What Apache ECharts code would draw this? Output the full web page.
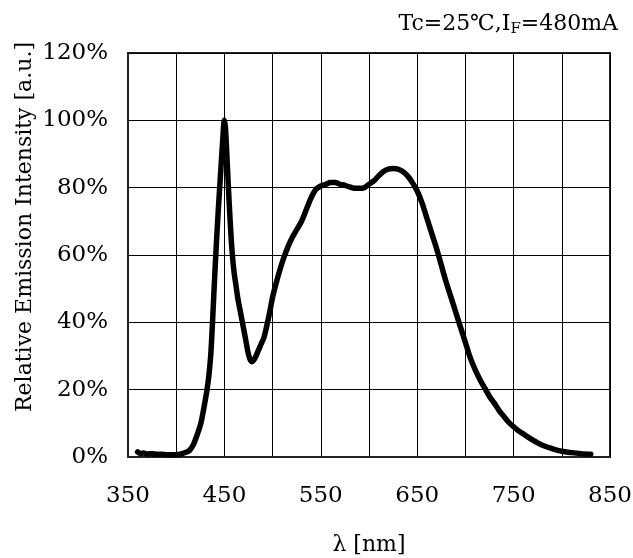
<!DOCTYPE html>
<html>
<head>
<meta charset="utf-8">
<script src="https://cdn.jsdelivr.net/npm/echarts@6/dist/echarts.min.js"></script>
<style>html,body{margin:0;padding:0;background:#fff;}#main{width:633px;height:558px;}</style>
</head>
<body>
<div id="main"></div>
<script>
// wavelength [nm]
const wavelengths = [360,363,366,370,375,380,385,390,395,400,405,410,414,418,421,424,426,429,432,434,436,438,440,442,444,446,448,450,451,452,454,456,458,460,462,464,466,468,470,472,475,478,481,485,488,491,494,497,500,504,508,512,516,520,525,530,535,540,545,550,555,560,565,570,575,580,585,590,595,600,605,610,615,620,625,630,635,640,645,650,655,660,665,670,675,680,685,690,695,700,705,710,715,720,725,730,735,740,745,750,755,760,765,770,775,780,790,800,810,820,830];
// relative intensity [%]
const intensity = [1.5,1.0,1.2,0.9,1.0,0.8,0.8,0.7,0.7,0.7,0.9,1.4,2.0,3.8,6,8.5,10.5,15,20,24.5,31,42,54,65,75,84,93,100,98,93,81,70,61,55,51,47,44,41,38,35,30.5,28.3,29,31.5,33.5,35.5,39,43,47.5,52,56,59.5,62.5,65,67.5,70,73.5,77,79.5,80.5,81,81.5,81.5,81,80.7,80.2,79.8,79.8,80,81,82,83.5,84.8,85.5,85.7,85.5,84.8,83.5,81.5,79,75.5,71,66.5,62,57,52,47.5,43,38.5,34,29.5,26,23,20.5,18,16,13.8,12,10.3,9,7.8,6.9,5.9,5,4.2,3.5,2.5,1.7,1.3,1.0,0.8];
const xTicks = [350,450,550,650,750,850];
const yTicks = [0,20,40,60,80,100,120];

const seriesData = wavelengths.map((w,i)=>[w,intensity[i]]);
const FONT = 'DejaVu Serif';
const chart = echarts.init(document.getElementById('main'), null, {renderer:'canvas'});
chart.setOption({
  animation:false,
  backgroundColor:'#fff',
  grid:{left:128,right:23,top:53,bottom:101,containLabel:false,outerBoundsMode:'none',show:true,borderColor:'#222',borderWidth:2},
  graphic:[
    {type:'text', x:25, y:227, rotation:Math.PI/2,
     style:{text:'Relative Emission Intensity [a.u.]', font:'22px "DejaVu Serif"', fill:'#000', textAlign:'center', textVerticalAlign:'middle'}},
    {type:'text', right:15, top:13,
     style:{rich:{n:{fontFamily:FONT,fontSize:22,color:'#000'},s:{fontFamily:FONT,fontSize:15,color:'#000',padding:[10,0,0,0]}},
       text:'{n|Tc=25℃,I}{s|F}{n|=480mA}'}}
  ],
  xAxis:{type:'value',min:350,max:850,interval:50,
    name:'λ [nm]',nameLocation:'middle',nameGap:77,
    nameTextStyle:{fontFamily:FONT,fontSize:22,color:'#000'},
    axisLine:{show:true,lineStyle:{color:'#222',width:2}},
    axisTick:{show:false},
    axisLabel:{margin:28,fontFamily:FONT,fontSize:23,color:'#000',
      formatter:v=>xTicks.includes(v)?String(v):''},
    splitLine:{show:true,lineStyle:{color:'#000',width:1}}},
  yAxis:{type:'value',min:0,max:120,interval:20,
    axisLine:{show:true,lineStyle:{color:'#222',width:2}},
    axisTick:{show:false},
    axisLabel:{margin:20,fontFamily:FONT,fontSize:23,color:'#000',
      formatter:v=>yTicks.includes(v)?v+'%':''},
    splitLine:{show:true,lineStyle:{color:'#000',width:1}}},
  series:[{type:'line',data:seriesData,showSymbol:false,smooth:0.3,
    lineStyle:{color:'#000',width:5.5,cap:'round',join:'round'}}]
});
</script>
</body>
</html>
